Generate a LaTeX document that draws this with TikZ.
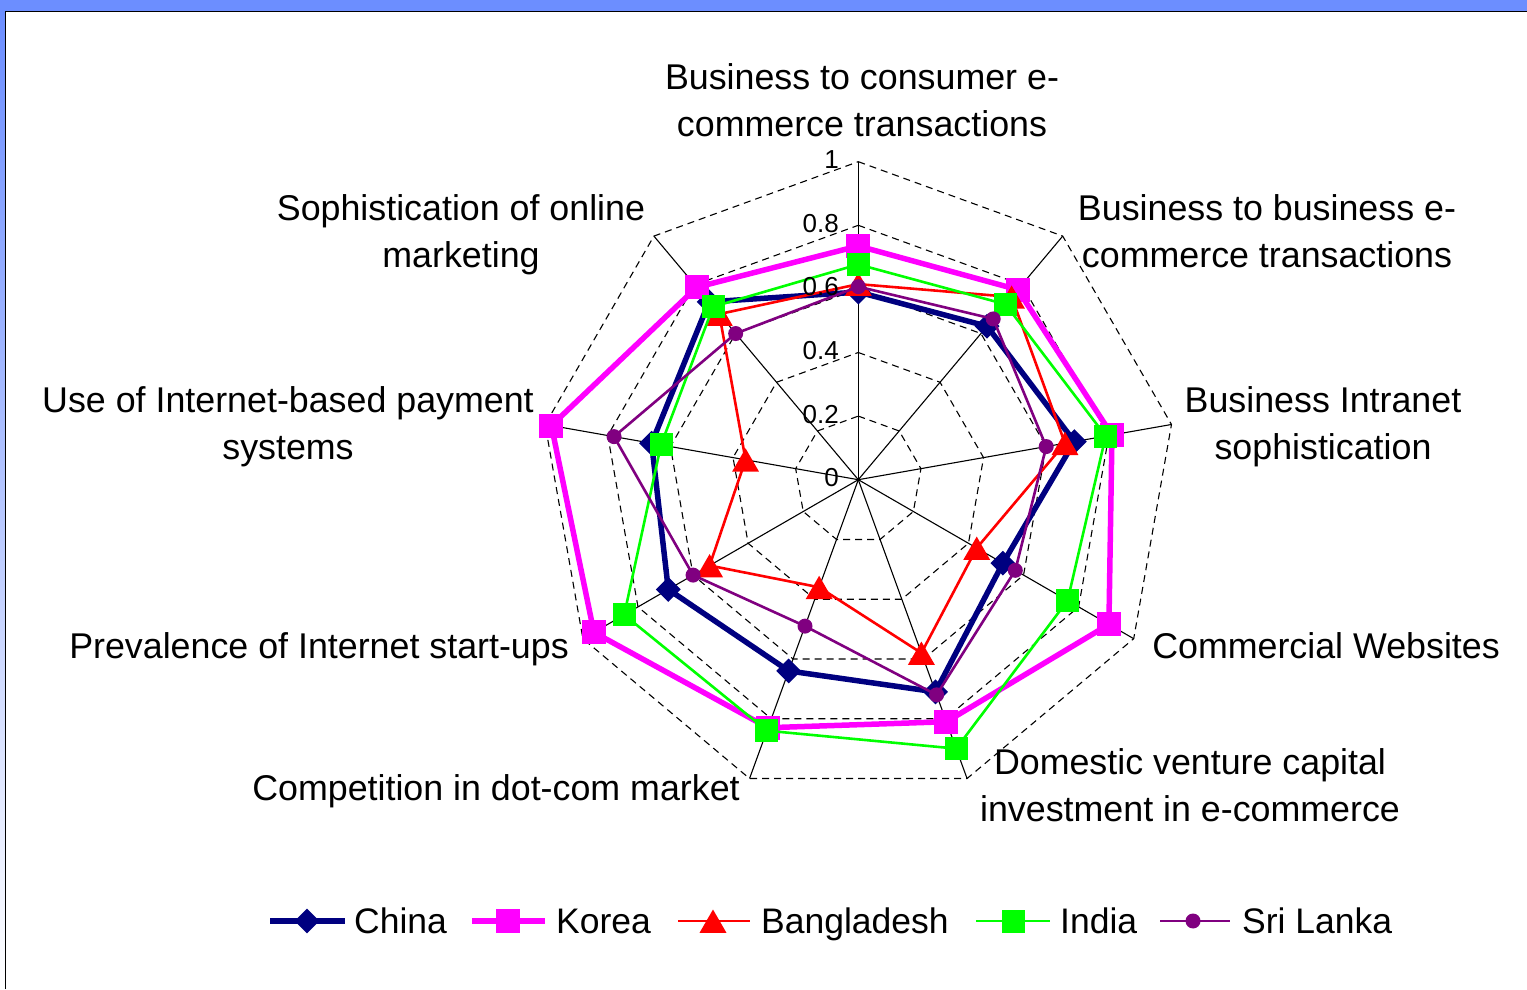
\documentclass[tikz,border=0pt]{standalone}
\usepackage{fontspec}
\setmainfont{Liberation Sans}
\usetikzlibrary{shapes.geometric}
\definecolor{navyc}{RGB}{0,0,128}
\definecolor{magc}{RGB}{255,0,255}
\definecolor{redc}{RGB}{255,0,0}
\definecolor{greenc}{RGB}{0,255,0}
\definecolor{purplec}{RGB}{128,0,128}
\definecolor{frameblue}{RGB}{108,142,255}
\newcommand\radarseries[4]{%
  \foreach \v [count=\k from 0] in {#2}{\coordinate (#1\k) at ({90-40*\k}:{\v*318});}
  \draw[#3] (#10) -- (#11) -- (#12) -- (#13) -- (#14) -- (#15) -- (#16) -- (#17) -- (#18) -- cycle;
  \foreach \k in {0,...,8}{\node[#4] (#1m\k) at (#1\k) {};}
}
\tikzset{
  gridln/.style={black, line width=1.1pt, dash pattern=on 7pt off 5pt},
  axisln/.style={black, line width=1.1pt},
  axlabel/.style={font=\fontsize{35.8}{47}\selectfont, align=center, inner sep=0pt},
  ticklbl/.style={font=\fontsize{26}{30}\selectfont, anchor=base east, inner sep=0pt},
  leglbl/.style={font=\fontsize{35.5}{42}\selectfont, anchor=base west, inner sep=0pt},
  chinaln/.style={navyc, line width=5.5pt, line join=round},
  korealn/.style={magc, line width=5.5pt, line join=round},
  bangln/.style={redc, line width=2.6pt, line join=round},
  indialn/.style={greenc, line width=2.6pt, line join=round},
  slln/.style={purplec, line width=2.6pt, line join=round},
  chinamk/.style={diamond, aspect=1, fill=navyc, minimum size=25pt, inner sep=0pt},
  koreamk/.style={rectangle, fill=magc, minimum size=24pt, inner sep=0pt},
  bangmk/.style={regular polygon, regular polygon sides=3, fill=redc, minimum size=31pt, inner sep=0pt, yshift=-4pt},
  indiamk/.style={rectangle, fill=greenc, minimum size=23pt, inner sep=0pt},
  slmk/.style={circle, fill=purplec, minimum size=15pt, inner sep=0pt},
}
\begin{document}
\begin{tikzpicture}[x=1pt,y=1pt]
\useasboundingbox (0,0) rectangle (1527,989);
\fill[white] (0,0) rectangle (1527,989);
\fill[frameblue] (0,977.5) rectangle (1527,989);
\shade[top color=frameblue, bottom color=white] (0,0) rectangle (5.5,977.5);
\draw[black, line width=1.6pt] (5.5,0) -- (5.5,977.5) -- (1527,977.5);

\begin{scope}[shift={(858.3,509.3)}]
  \coordinate (o) at (0,0);
  \foreach \lv in {1,2,3,4,5}{
    \draw[gridln] (90:{\lv*63.6}) \foreach \a in {50,10,-30,-70,-110,-150,-190,-230}{ -- (\a:{\lv*63.6})} -- cycle;
  }
  \foreach \k in {0,...,8}{
    \coordinate (ax\k) at ({90-40*\k}:318);
    \draw[axisln] (o) -- (ax\k);
  }
  \radarseries{china}{0.59,0.63,0.69,0.525,0.71,0.64,0.69,0.66,0.73}{chinaln}{chinamk}
  \radarseries{korea}{0.735,0.78,0.81,0.91,0.81,0.83,0.96,0.98,0.79}{korealn}{koreamk}
  \radarseries{bang}{0.615,0.75,0.66,0.43,0.58,0.36,0.54,0.36,0.68}{bangln}{bangmk}
  \radarseries{india}{0.677,0.72,0.79,0.76,0.90,0.84,0.85,0.63,0.71}{indialn}{indiamk}
  \radarseries{sl}{0.607,0.66,0.60,0.57,0.72,0.49,0.60,0.78,0.60}{slln}{slmk}
\end{scope}

% tick labels
\foreach \v/\t [count=\k] in {0/0,0.2/0.2,0.4/0.4,0.6/0.6,0.8/0.8,1/1}{
  \node[ticklbl] (tick\k) at (839,{509.3+\v*318-7}) {\t};
}

% axis labels
\node[axlabel] (lb2c) at (862,888.6) {Business to consumer e-\\commerce transactions};
\node[axlabel] (lb2b) at (1267,757.6) {Business to business e-\\commerce transactions};
\node[axlabel] (lintra) at (1323,561.8) {Business Intranet\\sophistication};
\node[axlabel, anchor=base] (lweb) at (1326,330) {Commercial Websites};
\node[axlabel] (lvc) at (1190,204.1) {Domestic venture capital\\investment in e-commerce};
\node[axlabel, anchor=base] (lcomp) at (496,189) {Competition in dot-com market};
\node[axlabel, anchor=base] (lprev) at (319,330) {Prevalence of Internet start-ups};
\node[axlabel] (lpay) at (288,561.8) {Use of Internet-based payment\\systems};
\node[axlabel] (lmkt) at (461,753.8) {Sophistication of online\\marketing};

% legend
\coordinate (lg1a) at (270,68); \coordinate (lg1b) at (345,68);
\draw[chinaln] (lg1a) -- (lg1b); \node[chinamk] (lgm1) at (307,68) {};
\node[leglbl] (lgt1) at (354,55.3) {China};
\coordinate (lg2a) at (472,68); \coordinate (lg2b) at (545,68);
\draw[korealn] (lg2a) -- (lg2b); \node[koreamk] (lgm2) at (508,68) {};
\node[leglbl] (lgt2) at (556,55.3) {Korea};
\coordinate (lg3a) at (678,68); \coordinate (lg3b) at (750,68);
\draw[bangln] (lg3a) -- (lg3b); \node[bangmk] (lgm3) at (713,68) {};
\node[leglbl] (lgt3) at (761,55.3) {Bangladesh};
\coordinate (lg4a) at (976,68); \coordinate (lg4b) at (1050,68);
\draw[indialn] (lg4a) -- (lg4b); \node[indiamk] (lgm4) at (1013,68) {};
\node[leglbl] (lgt4) at (1060,55.3) {India};
\coordinate (lg5a) at (1160,68); \coordinate (lg5b) at (1230,68);
\draw[slln] (lg5a) -- (lg5b); \node[slmk] (lgm5) at (1193,68) {};
\node[leglbl] (lgt5) at (1242,55.3) {Sri Lanka};
\end{tikzpicture}
\end{document}
